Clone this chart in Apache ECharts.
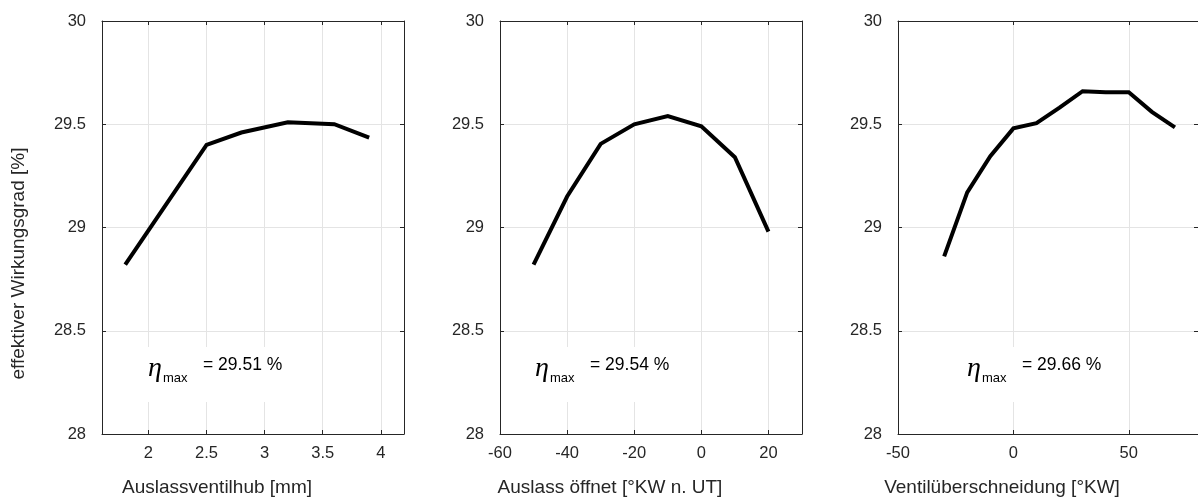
<!DOCTYPE html>
<html>
<head>
<meta charset="utf-8">
<script src="https://cdn.jsdelivr.net/npm/echarts@6/dist/echarts.min.js"></script>
<style>
  html, body { margin: 0; padding: 0; background: #fff; }
  #chart { width: 1198px; height: 502px; }
</style>
</head>
<body>
<div id="chart"></div>
<script>
// Effective efficiency versus three valve-train parameters
const liftX = [1.8, 2.5, 2.8, 3.2, 3.6, 3.9];
const liftEta = [28.82, 29.40, 29.46, 29.51, 29.50, 29.435];

const openX = [-50, -40, -30, -20, -10, 0, 10, 20];
const openEta = [28.82, 29.15, 29.405, 29.50, 29.54, 29.49, 29.34, 28.98];

const overlapX = [-30, -20, -10, 0, 10, 20, 30, 40, 50, 60, 70];
const overlapEta = [28.86, 29.17, 29.345, 29.48, 29.505, 29.58, 29.66, 29.655, 29.655, 29.56, 29.485];

const xNames = ['Auslassventilhub [mm]', 'Auslass öffnet [°KW n. UT]', 'Ventilüberschneidung [°KW]'];
const yName = 'effektiver Wirkungsgrad [%]';
const yMin = 28, yMax = 30, yStep = 0.5;

const panels = [
  { x: liftX, y: liftEta, min: 1.6, max: 4.2, split: 5, showMin: false, left: 102, etaOffset: 46, nameShift: 36 },
  { x: openX, y: openEta, min: -60, max: 30, split: 5, showMin: true, left: 500, etaOffset: 35, nameShift: 41 },
  { x: overlapX, y: overlapEta, min: -50, max: 80, split: 3, showMin: true, left: 898, etaOffset: 69, nameShift: 46 }
];

const TOP = 21, HEIGHT = 414, WIDTH = 302;
const INK = '#262626';
const GRIDLINE = '#e4e4e4';
const SANS = 'Liberation Sans, Arial, Helvetica, sans-serif';
const TICK_FONT = 16.5, NAME_FONT = 19;

const grids = [], xAxes = [], yAxes = [], series = [], graphics = [];

panels.forEach((p, i) => {
  grids.push({ left: p.left, top: TOP, width: WIDTH, height: HEIGHT, containLabel: false });

  const tickStyle = { show: true, inside: true, length: 4, lineStyle: { color: INK, width: 1 } };
  // bottom axis with labels and grid lines
  xAxes.push({
    type: 'value', gridIndex: i, position: 'bottom',
    min: p.min, max: p.max, splitNumber: p.split,
    axisLine: { show: true, onZero: false, lineStyle: { color: INK, width: 1 } },
    axisTick: tickStyle,
    axisLabel: { show: true, color: INK, fontSize: TICK_FONT, fontFamily: SANS, margin: 11,
                 showMinLabel: p.showMin, showMaxLabel: false },
    splitLine: { show: true, lineStyle: { color: GRIDLINE, width: 1 } },
    name: xNames[i], nameLocation: 'middle', nameGap: 44,
    nameTextStyle: { color: INK, fontSize: NAME_FONT, fontFamily: SANS,
                     padding: [0, 2 * p.nameShift, 0, 0] }
  });
  // top axis closes the box
  xAxes.push({
    type: 'value', gridIndex: i, position: 'top',
    min: p.min, max: p.max, splitNumber: p.split,
    axisLine: { show: true, onZero: false, lineStyle: { color: INK, width: 1 } },
    axisTick: tickStyle, axisLabel: { show: false }, splitLine: { show: false }
  });
  yAxes.push({
    type: 'value', gridIndex: i, position: 'left',
    min: yMin, max: yMax, interval: yStep,
    axisLine: { show: true, onZero: false, lineStyle: { color: INK, width: 1 } },
    axisTick: tickStyle,
    axisLabel: { show: true, color: INK, fontSize: TICK_FONT, fontFamily: SANS, margin: 16,
                 padding: [0, 0, 8, 0] },
    splitLine: { show: true, lineStyle: { color: GRIDLINE, width: 1 } },
    name: i === 0 ? yName : '', nameLocation: 'middle', nameGap: 74,
    nameTextStyle: { color: INK, fontSize: NAME_FONT, fontFamily: SANS,
                     padding: [0, 72, 0, 0] }
  });
  yAxes.push({
    type: 'value', gridIndex: i, position: 'right',
    min: yMin, max: yMax, interval: yStep,
    axisLine: { show: true, onZero: false, lineStyle: { color: INK, width: 1 } },
    axisTick: tickStyle, axisLabel: { show: false }, splitLine: { show: false }
  });

  series.push({
    type: 'line', xAxisIndex: 2 * i, yAxisIndex: 2 * i,
    data: p.x.map((v, k) => [v, p.y[k]]),
    symbol: 'none', z: 10,
    lineStyle: { color: '#000', width: 4, join: 'miter' }
  });

  // maximum efficiency note with a white backing box
  const peak = Math.max(...p.y).toFixed(2);
  const ex = p.left + p.etaOffset;
  graphics.push({
    type: 'rect', z: 5,
    shape: { x: ex - 12, y: 347, width: 160, height: 55 },
    style: { fill: '#fff' }
  });
  graphics.push({
    type: 'text', z: 6, x: ex, y: 369,
    style: { text: 'η', fill: '#000', font: 'italic 28px "Liberation Serif", serif',
             align: 'left', verticalAlign: 'middle' }
  });
  graphics.push({
    type: 'text', z: 6, x: ex + 15, y: 378,
    style: { text: 'max', fill: '#000', font: '13px ' + SANS,
             align: 'left', verticalAlign: 'middle' }
  });
  graphics.push({
    type: 'text', z: 6, x: ex + 55, y: 365,
    style: { text: '= ' + peak + ' %', fill: '#000', font: '17.5px ' + SANS,
             align: 'left', verticalAlign: 'middle' }
  });
});

const chart = echarts.init(document.getElementById('chart'), null, { renderer: 'canvas' });
chart.setOption({
  animation: false,
  backgroundColor: '#fff',
  grid: grids,
  xAxis: xAxes,
  yAxis: yAxes,
  series: series,
  graphic: graphics
});
</script>
</body>
</html>
